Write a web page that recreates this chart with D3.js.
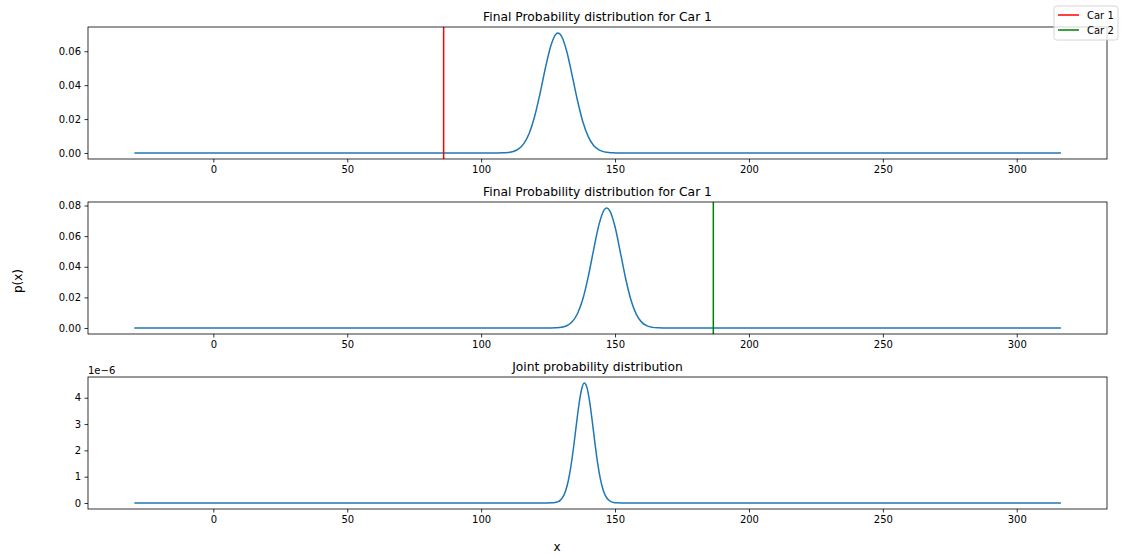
<!DOCTYPE html>
<html>
<head>
<meta charset="utf-8">
<script src="https://cdn.jsdelivr.net/npm/d3@7"></script>
<style>
  body { margin: 0; background: #fff; }
  svg text { font-family: "DejaVu Sans", sans-serif; fill: #000; }
</style>
</head>
<body>
<div id="chart"></div>
<script>
// values

// Car 1 belief (top panel)
const car1X = [-29.5, 106, 108, 110, 112, 114, 116, 118, 120, 122, 124, 126, 128, 128.7, 130, 132, 134, 136, 138, 140, 142, 144, 146, 148, 150, 152, 316.5];
const car1P = [0, 0.00002, 0.00009, 0.0003, 0.00091, 0.00242, 0.00571, 0.01184, 0.0217, 0.0351, 0.0501, 0.0631, 0.0702, 0.0707, 0.0689, 0.0597, 0.0456, 0.0308, 0.0183, 0.00964, 0.00447, 0.00183, 0.00066, 0.00021, 0.00006, 0.00001, 0];

// Car 2 belief (middle panel)
const car2X = [-29.5, 124, 126, 128, 130, 132, 134, 136, 138, 140, 142, 144, 146, 146.9, 148, 150, 152, 154, 156, 158, 160, 162, 164, 166, 168, 170, 316.5];
const car2P = [0, 0.00001, 0.00003, 0.000136, 0.000485, 0.00151, 0.00406, 0.00946, 0.0191, 0.0336, 0.0511, 0.0675, 0.0773, 0.0784, 0.0767, 0.0661, 0.0493, 0.032, 0.018, 0.00875, 0.00369, 0.00136, 0.00043, 0.00012, 0.00003, 0.00001, 0];

// joint distribution (bottom panel), in units of 1e-6
const jointX = [-29.5, 122.5, 124.5, 126.5, 127.5, 128.5, 129.5, 130.5, 131.5, 132.5, 133.5, 134.5, 135.5, 136.5, 137.5, 138.5, 139.5, 140.5, 141.5, 142.5, 143.5, 144.5, 145.5, 146.5, 147.5, 148.5, 149.5, 150.5, 152.5, 154.5, 316.5];
const jointP = [0, 0, 0.0005, 0.0055, 0.0159, 0.0421, 0.1018, 0.2244, 0.4505, 0.8263, 1.382, 2.108, 2.933, 3.724, 4.314, 4.558, 4.394, 3.864, 3.099, 2.268, 1.514, 0.9225, 0.5125, 0.2599, 0.1201, 0.0506, 0.0195, 0.0068, 0.0006, 0, 0];

// true car positions (vertical lines)
const car1Pos = 86.0;
const car2Pos = 186.7;

const xTicks = [0, 50, 100, 150, 200, 250, 300];
const car1Ticks = [0, 0.02, 0.04, 0.06];
const car2Ticks = [0, 0.02, 0.04, 0.06, 0.08];
const jointTicks = [0, 1, 2, 3, 4];

const legendNames = ['Car 1', 'Car 2'];
const legendColors = ['#ff0000', '#008000'];

const W = 1122, H = 556;
const left = 88, right = 1107;
const blue = '#1f77b4';

const svg = d3.select('#chart').append('svg')
    .attr('width', W)
    .attr('height', H);

const x = d3.scaleLinear().domain([-46.8, 333.7]).range([left, right]);

function panel(opts) {
    const y = d3.scaleLinear().domain(opts.yDomain).range([opts.bottom, opts.top]);
    const g = svg.append('g');

    // x axis
    const xa = g.append('g')
        .attr('transform', `translate(0,${opts.bottom})`)
        .call(d3.axisBottom(x).tickValues(xTicks).tickSize(3.5).tickPadding(3.5).tickFormat(d3.format('d')));
    // y axis
    const ya = g.append('g')
        .attr('transform', `translate(${left},0)`)
        .call(d3.axisLeft(y).tickValues(opts.ticks).tickSize(3.5).tickPadding(3.5).tickFormat(opts.fmt));
    [xa, ya].forEach(a => {
        a.select('.domain').remove();
        a.selectAll('line').attr('stroke', '#000').attr('stroke-width', 0.8);
        a.selectAll('text').attr('font-size', '10px').attr('fill', '#000');
    });

    // curve
    const line = d3.line()
        .x((d, i) => x(opts.xs[i]))
        .y(d => y(d))
        .curve(d3.curveMonotoneX);
    g.append('path')
        .datum(opts.ys)
        .attr('d', line)
        .attr('fill', 'none')
        .attr('stroke', blue)
        .attr('stroke-width', 1.5);

    // vertical marker
    if (opts.vline !== undefined) {
        g.append('line')
            .attr('x1', x(opts.vline)).attr('x2', x(opts.vline))
            .attr('y1', opts.top).attr('y2', opts.bottom)
            .attr('stroke', opts.vcolor)
            .attr('stroke-width', 1.5);
    }

    // frame
    g.append('rect')
        .attr('x', left).attr('y', opts.top)
        .attr('width', right - left).attr('height', opts.bottom - opts.top)
        .attr('fill', 'none')
        .attr('stroke', '#000')
        .attr('stroke-width', 0.8);

    // title
    g.append('text')
        .attr('x', (left + right) / 2)
        .attr('y', opts.top - 6)
        .attr('text-anchor', 'middle')
        .attr('font-size', '12.3px')
        .text(opts.title);
    return g;
}

panel({
    top: 27, bottom: 159, yDomain: [-0.00354, 0.0743],
    xs: car1X, ys: car1P, ticks: car1Ticks, fmt: d3.format('.2f'),
    vline: car1Pos, vcolor: legendColors[0],
    title: 'Final Probability distribution for Car 1'
});

panel({
    top: 202, bottom: 334, yDomain: [-0.0039, 0.0823],
    xs: car2X, ys: car2P, ticks: car2Ticks, fmt: d3.format('.2f'),
    vline: car2Pos, vcolor: legendColors[1],
    title: 'Final Probability distribution for Car 1'
});

const jg = panel({
    top: 377, bottom: 509, yDomain: [-0.228, 4.788],
    xs: jointX, ys: jointP, ticks: jointTicks, fmt: d3.format('d'),
    title: 'Joint probability distribution'
});

// offset text for the joint panel
jg.append('text')
    .attr('x', left)
    .attr('y', 374)
    .attr('font-size', '10px')
    .text('1e\u22126');

// axis labels
svg.append('text')
    .attr('x', 557)
    .attr('y', 551)
    .attr('text-anchor', 'middle')
    .attr('font-size', '12px')
    .text('x');

svg.append('text')
    .attr('transform', 'translate(22,281) rotate(-90)')
    .attr('text-anchor', 'middle')
    .attr('font-size', '12px')
    .text('p(x)');

// figure legend
const lg = svg.append('g').attr('transform', 'translate(1054,6)');
lg.append('rect')
    .attr('width', 64).attr('height', 34)
    .attr('rx', 2.5)
    .attr('fill', '#fff').attr('fill-opacity', 0.8)
    .attr('stroke', '#ccc').attr('stroke-width', 0.8);
legendNames.forEach((name, i) => {
    const yy = 9 + i * 15;
    lg.append('line')
        .attr('x1', 4).attr('x2', 25)
        .attr('y1', yy).attr('y2', yy)
        .attr('stroke', legendColors[i])
        .attr('stroke-width', 1.5);
    lg.append('text')
        .attr('x', 33)
        .attr('y', yy + 3.5)
        .attr('font-size', '10px')
        .text(name);
});
</script>
</body>
</html>
